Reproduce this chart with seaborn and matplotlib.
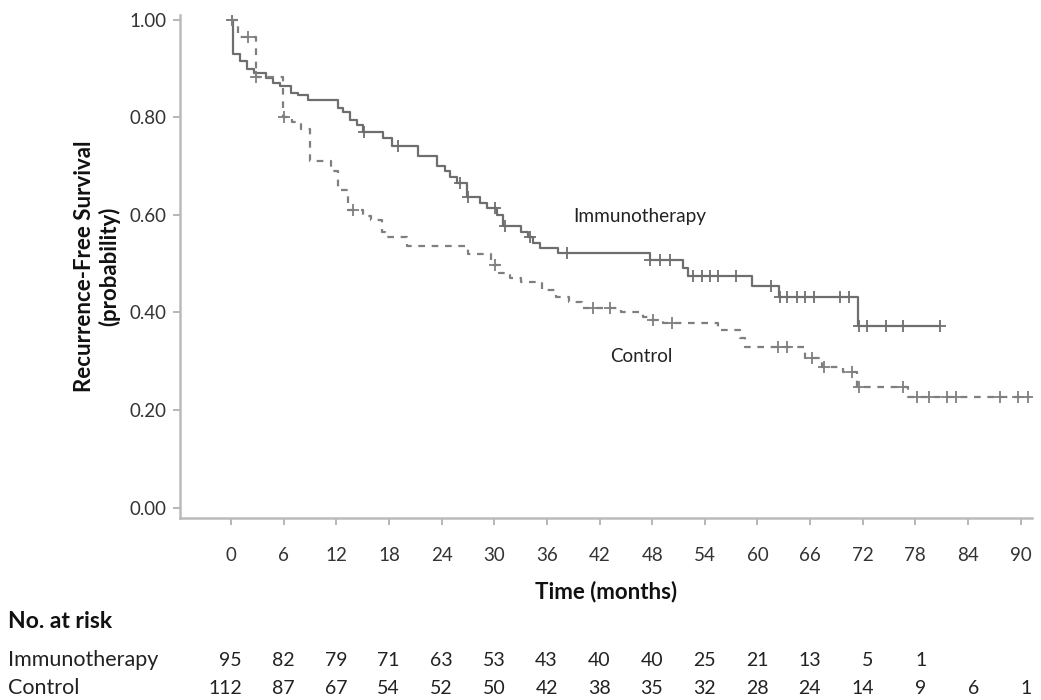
import numpy as np
import pandas as pd
import matplotlib
matplotlib.use("Agg")
import matplotlib.pyplot as plt
import seaborn as sns
from matplotlib.transforms import blended_transform_factory

# ---------------- data ----------------
immuno_step_times = [0, 0.2, 1.0, 1.8, 2.6, 4.0, 4.8, 5.6, 6.8, 7.6, 8.8, 12.2, 12.8, 13.6,
                     14.4, 15.0, 17.3, 18.4, 21.3, 23.5, 24.4, 25.0, 25.8, 26.9, 28.4, 29.2,
                     30.3, 31.0, 33.0, 33.8, 34.4, 35.2, 37.3, 47.7, 51.5, 52.1, 59.4, 62.4, 71.5]
immuno_step_surv = [1.0, 0.93, 0.915, 0.90, 0.89, 0.88, 0.87, 0.865, 0.85, 0.845, 0.836, 0.82,
                    0.81, 0.795, 0.785, 0.77, 0.758, 0.742, 0.72, 0.70, 0.69, 0.677, 0.665,
                    0.636, 0.625, 0.615, 0.60, 0.578, 0.565, 0.555, 0.543, 0.532, 0.522,
                    0.507, 0.49, 0.475, 0.455, 0.432, 0.373]
immuno_end = 80.8
immuno_censor = [0.1, 15.1, 19.0, 26.1, 27.0, 30.1, 31.2, 34.1, 38.3, 47.8, 48.9, 50.0,
                 52.7, 53.7, 54.6, 55.5, 57.5, 61.5, 62.6, 63.4, 64.5, 65.4, 66.4, 69.4,
                 70.4, 71.6, 72.5, 74.6, 76.6, 80.8]

control_step_times = [0, 0.8, 2.8, 5.9, 6.9, 8.0, 9.0, 11.4, 12.2, 13.3, 15.0, 16.0, 17.2,
                      17.6, 20.0, 27.0, 29.6, 30.5, 31.8, 33.0, 35.5, 37.0, 38.5, 40.0, 44.4,
                      47.0, 47.8, 49.2, 55.5, 58.0, 58.6, 65.4, 67.4, 69.7, 71.4, 77.2]
control_step_surv = [1.0, 0.965, 0.883, 0.80, 0.79, 0.775, 0.71, 0.69, 0.651, 0.61, 0.598,
                     0.59, 0.565, 0.555, 0.537, 0.52, 0.497, 0.481, 0.471, 0.463, 0.446,
                     0.432, 0.422, 0.41, 0.40, 0.39, 0.385, 0.378, 0.364, 0.348, 0.33,
                     0.307, 0.288, 0.278, 0.247, 0.227]
control_end = 90.8
control_censor = [0.1, 1.9, 2.9, 6.0, 13.9, 30.1, 41.2, 43.2, 48.1, 50.3, 62.3, 63.4, 66.2,
                  67.6, 70.8, 71.6, 76.6, 78.2, 79.5, 81.6, 82.6, 87.7, 89.7, 90.8]

x_ticks = list(range(0, 91, 6))
y_ticks = [0.0, 0.2, 0.4, 0.6, 0.8, 1.0]
risk_immuno = [95, 82, 79, 71, 63, 53, 43, 40, 40, 25, 21, 13, 5, 1]
risk_control = [112, 87, 67, 54, 52, 50, 42, 38, 35, 32, 28, 24, 14, 9, 6, 1]

# ---------------- build tables ----------------
def curve(times, surv, end):
    t = list(times) + [end]
    s = list(surv) + [surv[-1]]
    return pd.DataFrame({"time": t, "surv": s})

def censor_points(times, surv, cens):
    times = np.asarray(times)
    idx = np.searchsorted(times, cens, side="right") - 1
    return pd.DataFrame({"time": cens, "surv": np.asarray(surv)[idx]})

df_i = curve(immuno_step_times, immuno_step_surv, immuno_end)
df_c = curve(control_step_times, control_step_surv, control_end)
cen_i = censor_points(immuno_step_times, immuno_step_surv, immuno_censor)
cen_c = censor_points(control_step_times, control_step_surv, control_censor)

# ---------------- plot ----------------
sns.set_style("ticks")
plt.rcParams["font.family"] = ["Lato", "DejaVu Sans"]

fig = plt.figure(figsize=(10.41, 7.0), dpi=100)
ax = fig.add_axes([0.1729, 0.26, 0.8185, 0.719])

col_i = "#6e6e6e"
col_c = "#7f7f7f"
sns.lineplot(data=df_i, x="time", y="surv", ax=ax, drawstyle="steps-post",
             color=col_i, linewidth=1.6, estimator=None, sort=False)
sns.lineplot(data=df_c, x="time", y="surv", ax=ax, drawstyle="steps-post",
             color=col_c, linewidth=1.6, estimator=None, sort=False, dashes=False,
             linestyle=(0, (3.0, 3.0)))
sns.scatterplot(data=cen_i, x="time", y="surv", ax=ax, marker="+", s=80,
                color=col_i, linewidth=1.3, zorder=3)
sns.scatterplot(data=cen_c, x="time", y="surv", ax=ax, marker="+", s=80,
                color=col_c, linewidth=1.3, zorder=3)

ax.set_xlim(-5.82, 91.3)
ax.set_ylim(-0.0215, 1.0103)
ax.set_xticks(x_ticks)
ax.set_xticklabels([str(v) for v in x_ticks])
ax.set_yticks(y_ticks)
ax.set_yticklabels([f"{v:.2f}" for v in y_ticks])
ax.tick_params(axis="both", labelsize=13.5, colors="#333333", length=5, width=1.2,
               color="#aaaaaa")
ax.tick_params(axis="x", pad=16)
ax.tick_params(axis="y", pad=5)
for side in ["left", "bottom"]:
    ax.spines[side].set_color("#bbbbbb")
    ax.spines[side].set_linewidth(1.8)
sns.despine(ax=ax)

ax.set_xlabel("Time (months)", fontsize=16, fontweight="bold", color="#111111", labelpad=12)
ax.set_ylabel("Recurrence-Free Survival\n(probability)", fontsize=16, fontweight="bold",
              color="#111111", labelpad=6, linespacing=1.2)

ax.text(39.0, 0.596, "Immunotherapy", fontsize=13.7, color="#222222", va="center", ha="left")
ax.text(43.2, 0.309, "Control", fontsize=13.5, color="#222222", va="center", ha="left")

# at-risk table
trans = blended_transform_factory(ax.transData, fig.transFigure)
fig.text(8 / 1041, 1 - 622 / 700, "No. at risk", fontsize=16.5, fontweight="bold",
         color="#111111", va="center", ha="left")
fig.text(8 / 1041, 1 - 660 / 700, "Immunotherapy", fontsize=15.5, color="#222222",
         va="center", ha="left")
fig.text(8 / 1041, 1 - 688 / 700, "Control", fontsize=15.5, color="#222222",
         va="center", ha="left")
for tx, n in zip(x_ticks, risk_immuno):
    ax.text(tx + 1.25, 1 - 660 / 700, str(n), transform=trans, fontsize=14,
            color="#222222", va="center", ha="right", clip_on=False)
for tx, n in zip(x_ticks, risk_control):
    ax.text(tx + 1.25, 1 - 688 / 700, str(n), transform=trans, fontsize=14,
            color="#222222", va="center", ha="right", clip_on=False)

fig.savefig("out.png", dpi=100)
